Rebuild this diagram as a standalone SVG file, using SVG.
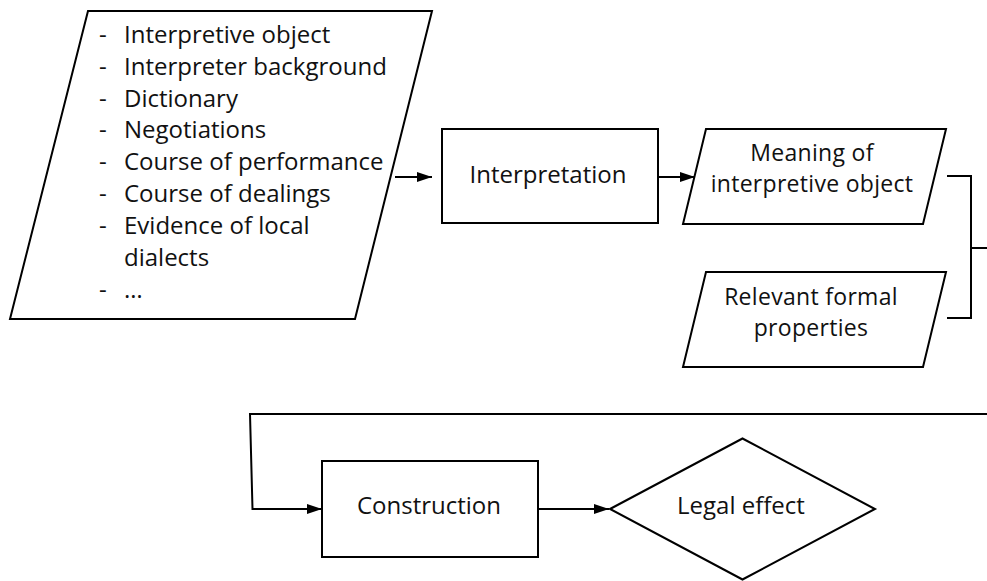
<svg xmlns="http://www.w3.org/2000/svg" width="987" height="581" viewBox="0 0 987 581">
<style>
.shape{fill:#fff;stroke:#000;stroke-width:2;stroke-linejoin:miter}
.conn{fill:none;stroke:#000;stroke-width:2}
text{font-family:"Open Sans","Liberation Sans",sans-serif;font-size:24px;fill:#111}
.c{text-anchor:middle}
.two{font-size:23px;letter-spacing:0.3px}
</style>
<defs>
<marker id="arr" markerUnits="userSpaceOnUse" markerWidth="16" markerHeight="11" refX="15" refY="5.5" orient="auto">
<path d="M0,0.5 L15,5.5 L0,10.5 Z" fill="#000"/>
</marker>
</defs>
<rect width="987" height="581" fill="#fff"/>
<g id="connectors">
<path class="conn" d="M395,177 L432,177" marker-end="url(#arr)"/>
<path class="conn" d="M658,177 L695,177" marker-end="url(#arr)"/>
<path class="conn" d="M947,176 L971,176 L971,318 L947,318"/>
<path class="conn" d="M971,248 L987,248"/>
<path class="conn" d="M987,414 L250,414 L252.5,509 L322,509" marker-end="url(#arr)"/>
<path class="conn" d="M538,509 L609,509" marker-end="url(#arr)"/>
</g>
<g id="inputs">
<polygon class="shape" points="88,11 432,11 355,319 10,319"/>
<text x="99" y="43">-</text><text x="124" y="43">Interpretive object</text>
<text x="99" y="75">-</text><text x="124" y="75">Interpreter background</text>
<text x="99" y="106.5">-</text><text x="124" y="106.5">Dictionary</text>
<text x="99" y="138">-</text><text x="124" y="138">Negotiations</text>
<text x="99" y="170">-</text><text x="124" y="170">Course of performance</text>
<text x="99" y="201.5">-</text><text x="124" y="201.5">Course of dealings</text>
<text x="99" y="233.5">-</text><text x="124" y="233.5">Evidence of local</text>
<text x="124" y="266">dialects</text>
<text x="99" y="298">-</text><text x="124" y="298">…</text>
</g>
<g id="interpretation">
<rect class="shape" x="442" y="129" width="216" height="94"/>
<text class="c" x="548" y="183">Interpretation</text>
</g>
<g id="meaning">
<polygon class="shape" points="706,129 946,129 923,224 683,224"/>
<text class="c two" x="812" y="160.5">Meaning of</text>
<text class="c two" x="812" y="191.5">interpretive object</text>
</g>
<g id="formal">
<polygon class="shape" points="706,272 946,272 923,367 683,367"/>
<text class="c two" x="811" y="304.5">Relevant formal</text>
<text class="c two" x="811" y="335.5">properties</text>
</g>
<g id="construction">
<rect class="shape" x="322" y="461" width="216" height="96"/>
<text class="c" x="429" y="514">Construction</text>
</g>
<g id="legal-effect">
<polygon class="shape" points="610,509 742.5,438.5 875,509 742.5,579.5"/>
<text class="c" x="741" y="514">Legal effect</text>
</g>
</svg>
